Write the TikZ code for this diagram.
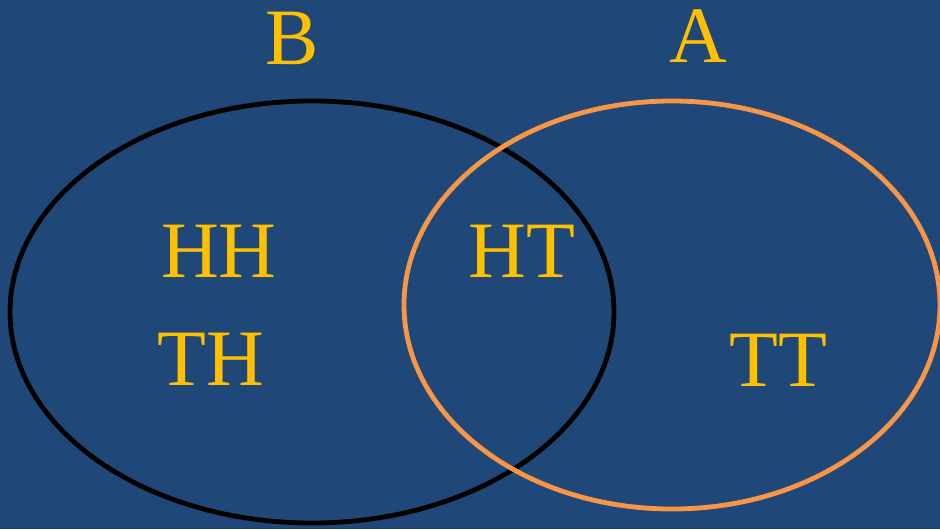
\documentclass[tikz,border=0pt]{standalone}
\usepackage{fontspec}
\setmainfont{Liberation Serif}
\usepackage{tikz}
\usetikzlibrary{positioning}

\definecolor{bgblue}{HTML}{1F4878}
\definecolor{gold}{HTML}{FFC000}
\definecolor{peach}{HTML}{F79646}

\begin{document}
\begin{tikzpicture}[x=0.75pt,y=-0.75pt,line width=3.6pt]
  \tikzstyle{every node}=[text=gold,font=\fontsize{60}{62}\selectfont,anchor=base,inner sep=0pt]
  \tikzstyle{setB}=[draw=black]
  \tikzstyle{setA}=[draw=peach]

  \fill[bgblue] (0,0) rectangle (940,529);
  \useasboundingbox (0,0) rectangle (940,529);
  \clip (0,0) rectangle (940,529);

  \draw[setB] (312,312) ellipse [x radius=302, y radius=211]; % B
  \draw[setA] (672,305) ellipse [x radius=268, y radius=204]; % A

  \node (lblB) at (292,64)  {B};
  \node (lblA) at (698,62)  {A};
  \node (HH)   at (219,277) {HH}; % only B
  \node (TH)   at (211,385) {TH}; % only B
  \node (HT)   at (522,277) {HT}; % both
  \node (TT)   at (778,386) {TT}; % only A
\end{tikzpicture}
\end{document}
